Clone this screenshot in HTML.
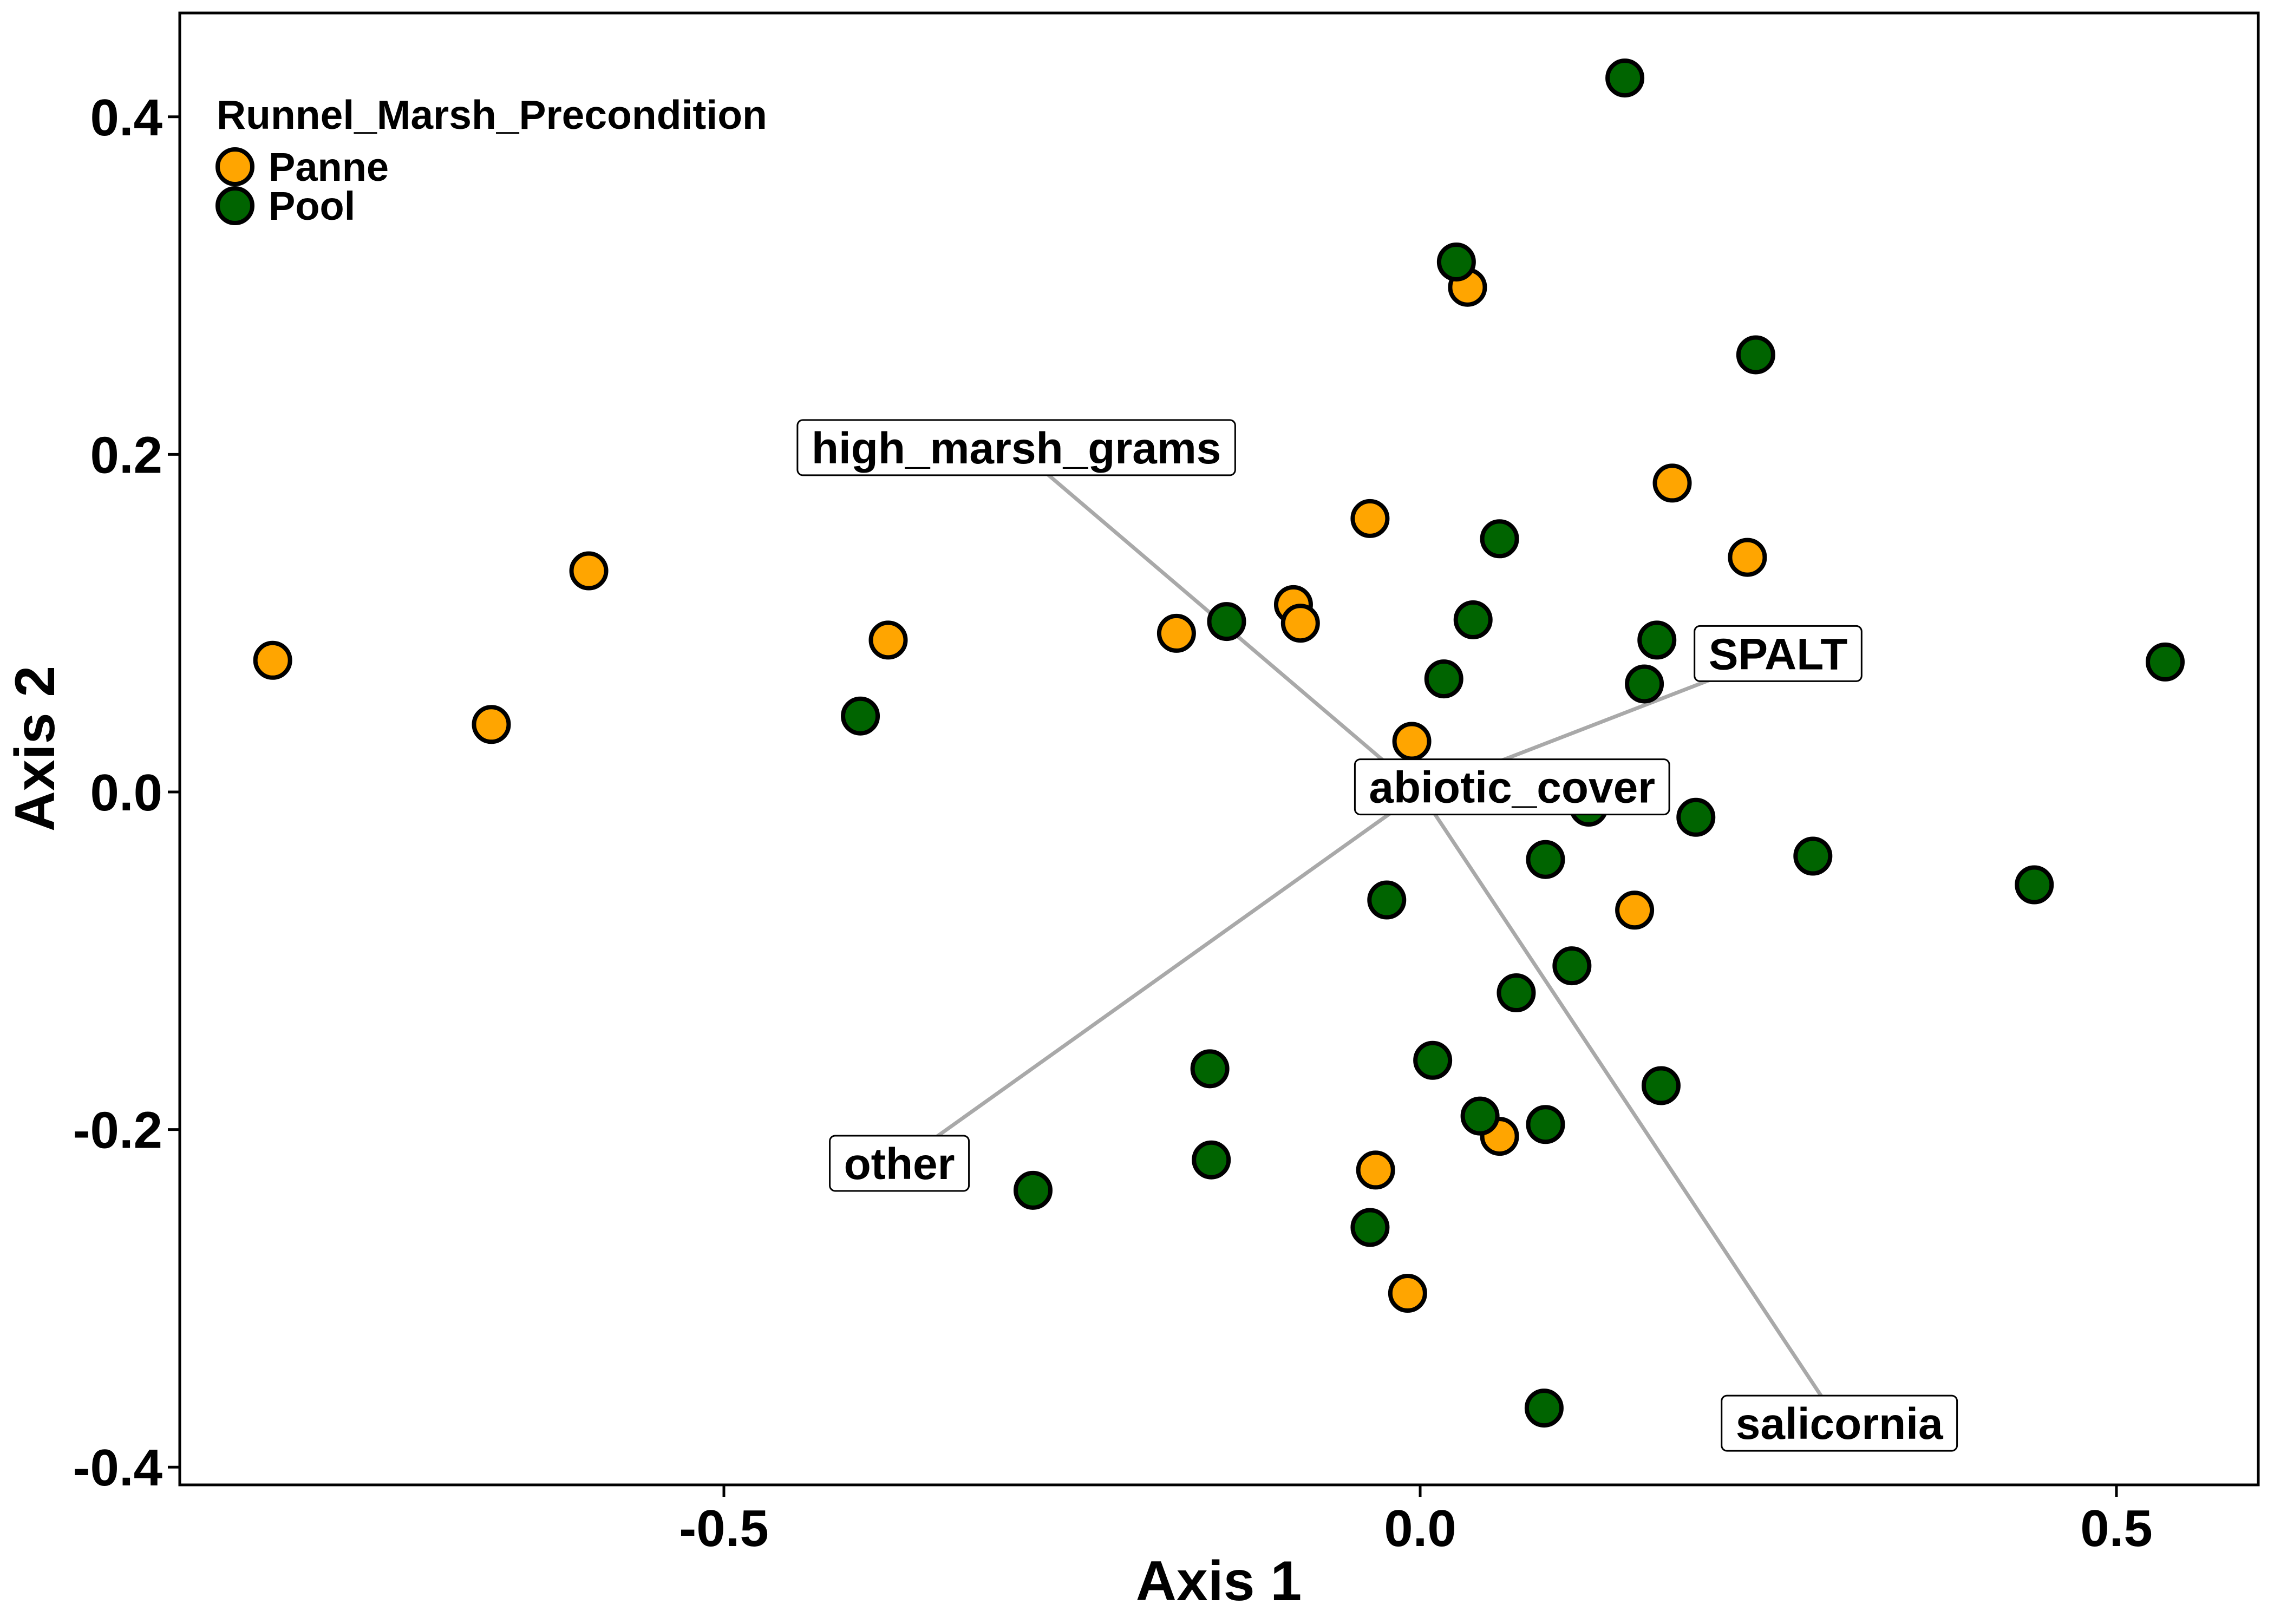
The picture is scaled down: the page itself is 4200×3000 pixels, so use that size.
<!DOCTYPE html>
<html><head><meta charset="utf-8"><style>
html,body{margin:0;padding:0;background:#fff;}
svg{display:block;font-family:"Liberation Sans",sans-serif;font-weight:bold;}
</style></head><body>
<svg id="chart" width="4200" height="3000" viewBox="0 0 4200 3000" xmlns="http://www.w3.org/2000/svg">
<rect x="0" y="0" width="4200" height="3000" fill="#fff"/>
<g id="vectors"></g>
<g id="points"></g>
<g id="labels"></g>
<rect x="332" y="24" width="3839" height="2719" fill="none" stroke="#000" stroke-width="5"/>
<g id="axes"></g>
<text x="2251" y="2956" font-size="104" text-anchor="middle">Axis 1</text>
<text transform="translate(100,1383) rotate(-90)" font-size="104" text-anchor="middle">Axis 2</text>
<g>
<text x="400" y="238" font-size="75">Runnel_Marsh_Precondition</text>
<circle cx="434" cy="308" r="32" fill="#FFA500" stroke="#000" stroke-width="8"/>
<text x="496" y="334" font-size="74">Panne</text>
<circle cx="434" cy="380" r="32" fill="#006400" stroke="#000" stroke-width="8"/>
<text x="496" y="406" font-size="74">Pool</text>
</g>
</svg>
<script>
const panneX=[-0.824,-0.667,-0.597,-0.382,-0.175,-0.091,-0.086,-0.036,-0.006,0.034,0.181,0.235,0.154,0.057,-0.032,-0.009];
const panneY=[0.078,0.040,0.131,0.090,0.094,0.111,0.100,0.162,0.030,0.299,0.183,0.139,-0.070,-0.204,-0.224,-0.297];
const poolX=[0.147,0.026,0.241,0.057,0.038,-0.139,-0.402,0.017,0.170,0.161,0.535,0.121,0.198,0.282,0.090,0.441,-0.024,0.109,0.069,0.009,-0.151,0.173,0.043,0.090,-0.150,-0.278,-0.036,0.089];
const poolY=[0.423,0.314,0.259,0.150,0.102,0.101,0.045,0.067,0.090,0.064,0.077,-0.009,-0.015,-0.038,-0.040,-0.055,-0.064,-0.103,-0.119,-0.159,-0.164,-0.174,-0.192,-0.197,-0.218,-0.236,-0.258,-0.365];
const vecNames=["high_marsh_grams","SPALT","abiotic_cover","other","salicornia"];
const vecX=[-0.290,0.257,0.066,-0.374,0.301];
const vecY=[0.204,0.082,0.003,-0.220,-0.374];
const xTicks=[-0.5,0.0,0.5];
const xTickLabels=["-0.5","0.0","0.5"];
const yTicks=[-0.4,-0.2,0.0,0.2,0.4];
const yTickLabels=["-0.4","-0.2","0.0","0.2","0.4"];

const NS="http://www.w3.org/2000/svg";
const sx=v=>2623+v*2572;
const sy=v=>1463-v*3118;
function mk(tag,attrs,parent){const e=document.createElementNS(NS,tag);for(const k in attrs)e.setAttribute(k,attrs[k]);parent.appendChild(e);return e;}
const gV=document.getElementById('vectors'),gP=document.getElementById('points'),gL=document.getElementById('labels'),gA=document.getElementById('axes');

vecNames.forEach((n,i)=>{
  const l=mk('line',{x1:sx(0),y1:sy(0),x2:sx(vecX[i]),y2:sy(vecY[i]),stroke:'#A9A9A9','stroke-width':7},gV);
  
  
});
panneX.forEach((x,i)=>{
  const c=mk('circle',{cx:sx(x),cy:sy(panneY[i]),r:32,fill:'#FFA500',stroke:'#000','stroke-width':8},gP);
  
  
});
poolX.forEach((x,i)=>{
  const c=mk('circle',{cx:sx(x),cy:sy(poolY[i]),r:32,fill:'#006400',stroke:'#000','stroke-width':8},gP);
  
  
});
vecNames.forEach((n,i)=>{
  const g=mk('g',{},gL);
  
  
  const cx=sx(vecX[i]),cy=sy(vecY[i]);
  const r=mk('rect',{fill:'#fff',stroke:'#000','stroke-width':3,rx:10},g);
  const t=mk('text',{x:cx,y:cy+29,'font-size':82,'text-anchor':'middle'},g);
  t.textContent=n;
  const w=t.getComputedTextLength()+52;
  r.setAttribute('x',cx-w/2);r.setAttribute('y',cy-51);r.setAttribute('width',w);r.setAttribute('height',102);
});
xTicks.forEach((v,i)=>{
  const tk=mk('line',{x1:sx(v),x2:sx(v),y1:2743,y2:2765,stroke:'#000','stroke-width':5},gA);
  
  
  const t=mk('text',{x:sx(v),y:2856,'font-size':96,'text-anchor':'middle'},gA);
  
  
  t.textContent=xTickLabels[i];
});
yTicks.forEach((v,i)=>{
  const tk=mk('line',{x1:310,x2:332,y1:sy(v),y2:sy(v),stroke:'#000','stroke-width':5},gA);
  
  
  const t=mk('text',{x:300,y:sy(v)+34,'font-size':96,'text-anchor':'end'},gA);
  
  
  t.textContent=yTickLabels[i];
});
</script>
</body></html>
